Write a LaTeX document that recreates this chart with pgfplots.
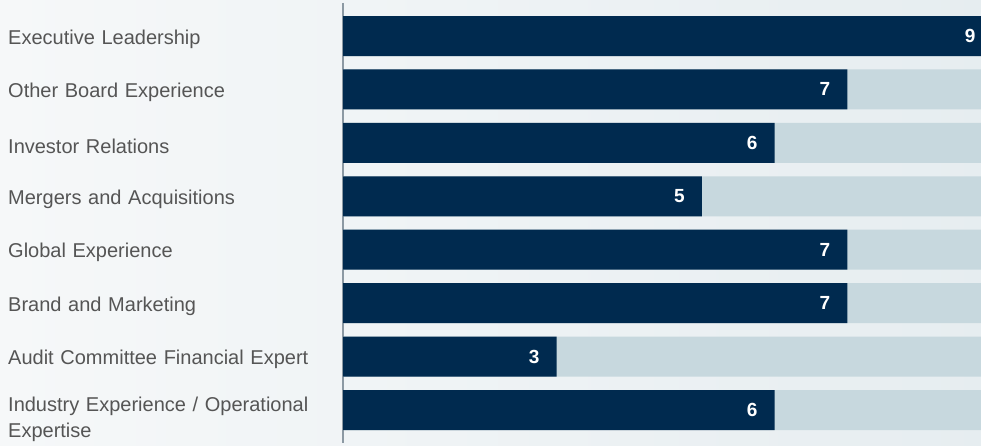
\documentclass[border=0pt]{standalone}
\usepackage{fontspec}
\setmainfont{Liberation Sans}
\usepackage{pgfplots}
\pgfplotsset{compat=1.18}
\definecolor{navy}{HTML}{002A4F}
\definecolor{lightbar}{HTML}{C7D8DE}
\definecolor{bgL}{HTML}{F6F8F9}
\definecolor{bgR}{HTML}{E6EDF0}
\definecolor{labgray}{HTML}{555555}
\definecolor{axgray}{HTML}{8C99A3}
\begin{document}
\begin{tikzpicture}
\shade[left color=bgL, right color=bgR] (0pt,0pt) rectangle (995pt,446pt);
\begin{axis}[
  at={(343pt,3pt)}, anchor=south west,
  width=649.6pt, height=440pt, scale only axis,
  xmin=0.06, xmax=9,
  ymin=-0.618, ymax=7.617, y dir=reverse,
  axis x line=none,
  axis y line*=left,
  axis line style={axgray, line width=1.2pt, -},
  xtick=\empty,
  ytick={0,1,2,3,4,5,6,7},
  yticklabels={Executive Leadership, Other Board Experience, Investor Relations, Mergers and Acquisitions, Global Experience, Brand and Marketing, Audit Committee Financial Expert, {\rule{0pt}{27pt}Industry Experience / Operational\\Expertise}},
  major tick length=0pt,
  yticklabel style={anchor=west, xshift=-335pt, yshift=-3pt, text width=330pt, align=left, inner sep=0pt, font=\fontsize{20}{26}\selectfont, text=labgray},
  xbar, bar width=40pt, bar shift=0pt,
]
\addplot[fill=lightbar, draw=none] coordinates {(9,0) (9,1) (9,2) (9,3) (9,4) (9,5) (9,6) (9,7)};
\addplot[fill=navy, draw=none, nodes near coords={\pgfmathprintnumber[assume math mode=true]{\pgfplotspointmeta}},
  every node near coord/.append style={anchor=east, xshift=-17pt, text=white, inner sep=0pt, font=\fontsize{19}{22}\selectfont\bfseries}]
  coordinates {(9,0) (7,1) (6,2) (5,3) (7,4) (7,5) (3,6) (6,7)};
\end{axis}
\pgfresetboundingbox
\path (0pt,0pt) rectangle (981pt,446pt);
\end{tikzpicture}
\end{document}
